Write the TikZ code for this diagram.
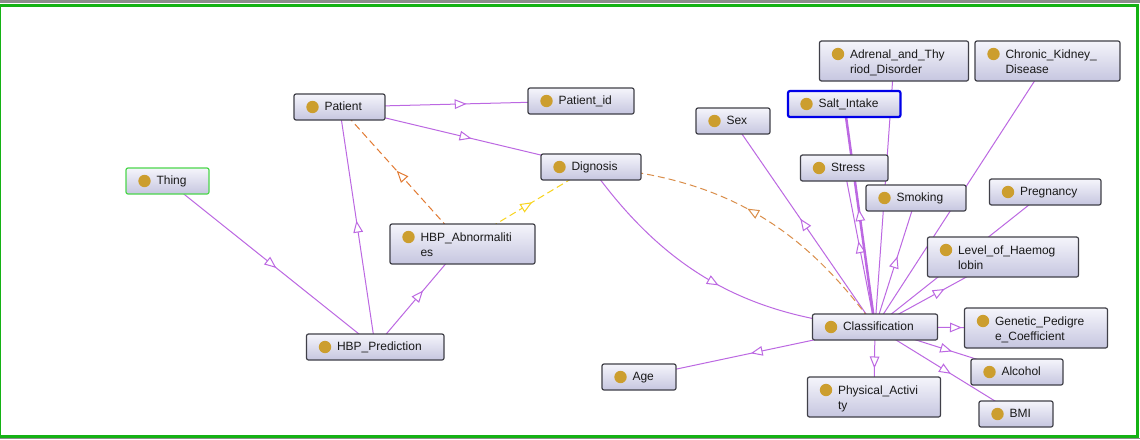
\documentclass[tikz,border=0pt]{standalone}
\usepackage{fontspec}
\setmainfont{Liberation Sans}
\usetikzlibrary{backgrounds,decorations.markings}

\definecolor{boxedge}{RGB}{64,64,72}
\definecolor{boxtop}{RGB}{245,245,251}
\definecolor{boxbot}{RGB}{198,198,224}
\definecolor{dotgold}{RGB}{204,158,46}
\definecolor{isapurple}{RGB}{188,104,226}
\definecolor{linkorange}{RGB}{226,122,50}
\definecolor{linkbrown}{RGB}{218,142,74}
\definecolor{linkyellow}{RGB}{248,212,30}
\definecolor{framegreen}{RGB}{20,178,20}
\definecolor{framegray}{RGB}{140,140,140}
\definecolor{thinggreen}{RGB}{76,214,76}
\definecolor{selblue}{RGB}{0,0,232}

\tikzset{
  cls/.style={rectangle, rounded corners=2pt, draw=boxedge, line width=1.2pt,
    top color=boxtop, bottom color=boxbot, text=black!90,
    inner xsep=6pt, inner ysep=0pt, text width=#1-12pt, align=left,
    text height=9.5pt, text depth=2pt, minimum height=26pt,
    font=\fontsize{12}{15}\selectfont,
    execute at begin node={\leftskip=24.5pt\relax},
    path picture={\fill[dotgold] ([xshift=18.5pt,yshift=-13pt]path picture bounding box.north west) circle (6.2pt);}},
  twoline/.style={text depth=15.5pt, minimum height=40pt},
  midtri/.style={postaction={decorate},
    decoration={markings, mark=at position 0.5 with
      {\filldraw[draw=#1, fill=white, solid, line width=1pt] (-5pt,-4.2pt) -- (5pt,0pt) -- (-5pt,4.2pt) -- cycle;}}},
  isa/.style={draw=isapurple, line width=1pt, midtri=isapurple},
  proplink/.style={draw=#1, line width=1pt, dash pattern=on 7pt off 4pt, midtri=#1}
}

\begin{document}
\begin{tikzpicture}[x=1pt, y=-1pt]
  \useasboundingbox (0,0) rectangle (1140,439);

  % classes
  \node[cls=83, draw=thinggreen] (thing) at (167.5,181) {Thing};
  \node[cls=91] (patient) at (339.5,107) {Patient};
  \node[cls=106] (patientid) at (581,101) {Patient\_id};
  \node[cls=100] (dignosis) at (591,167) {Dignosis};
  \node[cls=145, twoline] (hbpabnorm) at (462.5,244) {HBP\_Abnormaliti\\es};
  \node[cls=137.5] (hbppred) at (375.25,347) {HBP\_Prediction};
  \node[cls=74] (sex) at (733,121) {Sex};
  \node[cls=149, twoline] (adrenal) at (894,61) {Adrenal\_and\_Thy\\riod\_Disorder};
  \node[cls=145, twoline] (chronic) at (1047.5,61) {Chronic\_Kidney\_\\Disease};
  \node[cls=112.5, draw=selblue, line width=2.2pt] (salt) at (844.25,104) {Salt\_Intake};
  \node[cls=87.5] (stress) at (844.25,168) {Stress};
  \node[cls=100] (smoking) at (916,198) {Smoking};
  \node[cls=111.5] (pregnancy) at (1045.25,192) {Pregnancy};
  \node[cls=151, twoline] (level) at (1003,257) {Level\_of\_Haemog\\lobin};
  \node[cls=125] (classif) at (875,327) {Classification};
  \node[cls=143, twoline] (genetic) at (1036,328) {Genetic\_Pedigre\\e\_Coefficient};
  \node[cls=74] (age) at (639,377) {Age};
  \node[cls=133, twoline] (physical) at (874,397) {Physical\_Activi\\ty};
  \node[cls=92] (alcohol) at (1017,372) {Alcohol};
  \node[cls=74] (bmi) at (1016,414) {BMI};

  \begin{pgfonlayer}{background}
    % window frame
    \fill[white] (0,0) rectangle (1140,439);
    \fill[framegray] (0,0) rectangle (1140,2.5);
    \fill[framegray] (0,437.5) rectangle (1140,439);
    \draw[framegreen, line width=3pt] (-0.3,5) rectangle (1137.2,436.2);

    % subclass edges
    \draw[isa] (thing.center) -- (hbppred.center);
    \draw[isa] (hbppred.center) -- (patient.center);
    \draw[isa] (hbppred.center) -- (hbpabnorm.center);
    \draw[isa] (patient.center) -- (patientid.center);
    \draw[isa] (patient.center) -- (dignosis.center);
    \draw[isa] (dignosis.center) to[bend right=25] (classif.center);
    \foreach \leaf in {sex, adrenal, chronic, stress, smoking, pregnancy, level,
                       genetic, alcohol, bmi, physical, age}
      \draw[isa] (classif.center) -- (\leaf.center);
    \draw[isa, line width=2.5pt] (classif.center) -- (salt.center);

    % property links
    \draw[proplink=linkorange] (hbpabnorm.center) -- (patient.center);
    \draw[proplink=linkyellow] (hbpabnorm.center) -- (dignosis.center);
    \draw[proplink=linkbrown] (classif.center) to[bend right=25] (dignosis.center);
  \end{pgfonlayer}
\end{tikzpicture}
\end{document}
